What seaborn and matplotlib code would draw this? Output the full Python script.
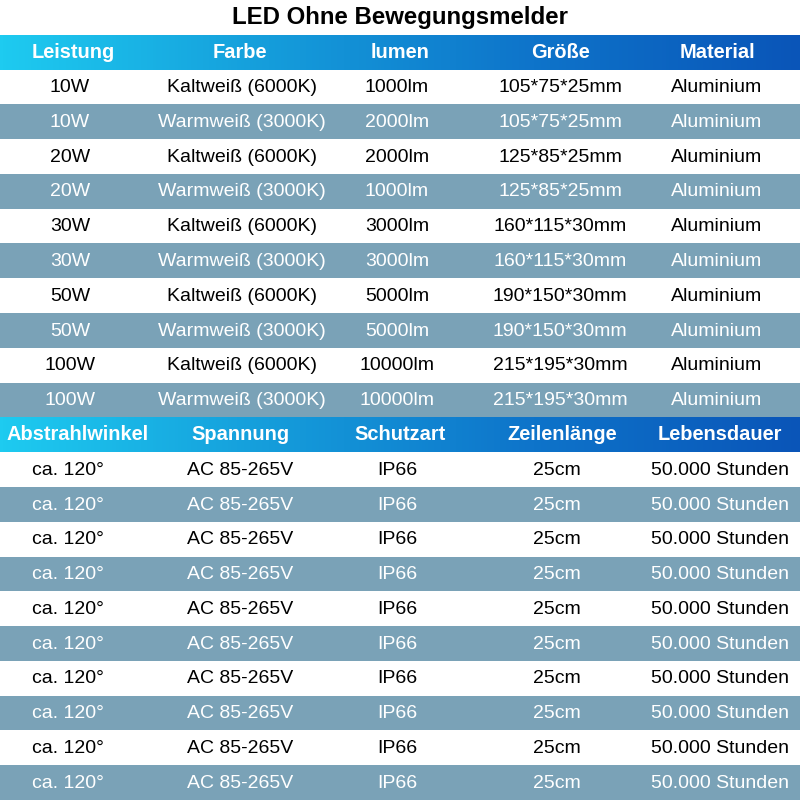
import numpy as np
import matplotlib
matplotlib.use("Agg")
import matplotlib.pyplot as plt
from matplotlib.colors import ListedColormap, LinearSegmentedColormap
import seaborn as sns

# --- Daten der Tabelle ---
titel = "LED Ohne Bewegungsmelder"
kopf_oben = ["Leistung", "Farbe", "lumen", "Größe", "Material"]
leistung = ["10W", "10W", "20W", "20W", "30W", "30W", "50W", "50W", "100W", "100W"]
farbe = ["Kaltweiß (6000K)", "Warmweiß (3000K)"] * 5
lumen = ["1000lm", "2000lm", "2000lm", "1000lm", "3000lm", "3000lm",
         "5000lm", "5000lm", "10000lm", "10000lm"]
groesse = ["105*75*25mm"] * 2 + ["125*85*25mm"] * 2 + ["160*115*30mm"] * 2 \
    + ["190*150*30mm"] * 2 + ["215*195*30mm"] * 2
material = ["Aluminium"] * 10

kopf_unten = ["Abstrahlwinkel", "Spannung", "Schutzart", "Zeilenlänge", "Lebensdauer"]
winkel = ["ca. 120°"] * 10
spannung = ["AC 85-265V"] * 10
schutzart = ["IP66"] * 10
laenge = ["25cm"] * 10
lebensdauer = ["50.000 Stunden"] * 10

oben = [leistung, farbe, lumen, groesse, material]
unten = [winkel, spannung, schutzart, laenge, lebensdauer]

STREIFEN = "#7aa2b7"
n = len(leistung)
n_zeilen = 1 + 1 + n + 1 + n  # Titel, Kopf, Daten, Kopf, Daten
n_spalten = 5

# Hintergrund-Matrix: 0 = weiss, 1 = Streifen
werte = np.zeros((n_zeilen, n_spalten))
for i in range(n):
    if i % 2 == 1:
        werte[2 + i, :] = 1
        werte[3 + n + i, :] = 1

sns.set_style("white")
plt.rcParams["font.family"] = ["Liberation Sans", "DejaVu Sans"]

fig = plt.figure(figsize=(8, 8), dpi=100)
ax = fig.add_axes([0, 0, 1, 1])
sns.heatmap(werte, ax=ax, cmap=ListedColormap(["white", STREIFEN]), cbar=False,
            xticklabels=False, yticklabels=False, vmin=0, vmax=1)

# Kopfzeilen mit Farbverlauf
verlauf = LinearSegmentedColormap.from_list(
    "kopf", ["#1ecbf0", "#159ddb", "#0e74ca", "#0a55b8"])
grad = np.linspace(0, 1, 256).reshape(1, -1)
for z in (1, 2 + n):
    ax.imshow(grad, cmap=verlauf, aspect="auto",
              extent=(0, n_spalten, z + 1, z), zorder=2)

ax.set_xlim(0, n_spalten)
ax.set_ylim(n_zeilen, 0)
ax.axis("off")

# Titel
ax.text(n_spalten / 2, 0.5, titel, ha="center", va="center",
        fontsize=17.3, fontweight="bold", color="black", zorder=3)

x_kopf_oben = [73, 240, 400, 560, 717]
x_kopf_unten = [78, 240, 400, 562, 720]
x_oben = [70, 242, 397, 560, 717]
x_unten = [68, 240, 397, 557, 720]

for j in range(n_spalten):
    ax.text(x_kopf_oben[j] / 160, 1.5, kopf_oben[j], ha="center", va="center",
            fontsize=14.4, fontweight="bold", color="white", zorder=3)
    ax.text(x_kopf_unten[j] / 160, 2 + n + 0.5, kopf_unten[j], ha="center",
            va="center", fontsize=14.4, fontweight="bold", color="white", zorder=3)

for i in range(n):
    farbe_txt = "white" if i % 2 == 1 else "black"
    for j in range(n_spalten):
        ax.text(x_oben[j] / 160, 2 + i + 0.52, oben[j][i], ha="center",
                va="center", fontsize=14, color=farbe_txt, zorder=3)
        ax.text(x_unten[j] / 160, 3 + n + i + 0.52, unten[j][i], ha="center",
                va="center", fontsize=14, color=farbe_txt, zorder=3)

fig.savefig("out.png", dpi=100)
